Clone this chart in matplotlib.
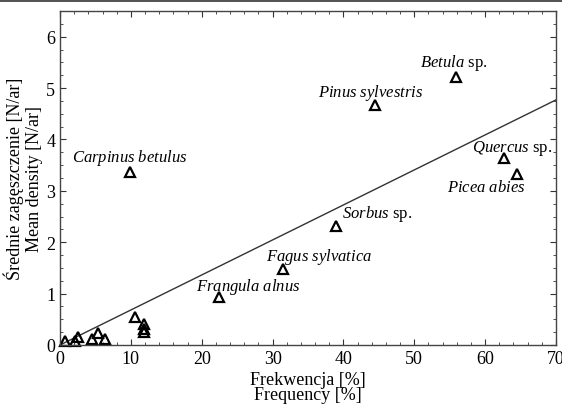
import matplotlib
matplotlib.use("Agg")
import matplotlib.pyplot as plt
from matplotlib.ticker import MultipleLocator
from matplotlib.patches import Rectangle

plt.rcParams['font.family'] = ['Liberation Serif', 'DejaVu Serif']
plt.rcParams['mathtext.fontset'] = 'custom'
plt.rcParams['mathtext.it'] = 'Liberation Serif:italic'
plt.rcParams['mathtext.rm'] = 'Liberation Serif'

# Named species: frequency [%], mean density [N/ar]
species = [r"$Betula$ sp.", r"$Pinus\ sylvestris$", r"$Carpinus\ betulus$",
           r"$Quercus$ sp.", r"$Picea\ abies$", r"$Sorbus$ sp.",
           r"$Fagus\ sylvatica$", r"$Frangula\ alnus$"]
freq_named = [55.9, 44.4, 9.9, 62.7, 64.5, 38.9, 31.5, 22.5]
dens_named = [5.22, 4.68, 3.36, 3.63, 3.32, 2.31, 1.48, 0.93]
# label anchor positions (data coordinates)
label_x = [55.6, 43.85, 9.8, 63.8, 60.1, 44.8, 36.5, 26.5]
label_y = [5.50, 4.93, 3.65, 3.84, 3.07, 2.56, 1.73, 1.15]

# Unlabelled species
freq_other = [10.6, 11.9, 11.9, 11.9, 0.7, 2.1, 2.5, 4.5, 5.4, 6.4]
dens_other = [0.54, 0.40, 0.32, 0.26, 0.08, 0.08, 0.15, 0.12, 0.23, 0.12]

# Regression line
line_x = [0, 70]
line_y = [0, 4.77]

fig = plt.figure(figsize=(5.62, 4.06), dpi=100)
ax = fig.add_axes([60/562, 1-346/406, (556-60)/562, (346-12)/406])

ax.plot(line_x, line_y, color='#333333', lw=1.0)
ax.plot(freq_named + freq_other, dens_named + dens_other, linestyle='none',
        marker='^', markersize=7.5, markerfacecolor='none',
        markeredgecolor='black', markeredgewidth=1.6, clip_on=False)

for s, lx, ly in zip(species, label_x, label_y):
    ax.text(lx, ly, s, ha='center', va='center', fontsize=12)

ax.set_xlim(0, 70)
ax.set_ylim(0, 6.5)
ax.xaxis.set_major_locator(MultipleLocator(10))
ax.xaxis.set_minor_locator(MultipleLocator(2))
ax.yaxis.set_major_locator(MultipleLocator(1))
ax.yaxis.set_minor_locator(MultipleLocator(0.25))
ax.tick_params(which='both', direction='in', top=True, right=True,
               labelsize=13, colors='#333333', labelcolor='black')
ax.tick_params(which='major', length=4, width=0.8)
ax.tick_params(which='minor', length=2, width=0.6)
for sp in ax.spines.values():
    sp.set_color('#444444')
    sp.set_linewidth(1.0)

ax.set_xlabel("Frekwencja [%]\nFrequency [%]", fontsize=13, labelpad=3,
              linespacing=0.88)
ax.set_ylabel("Średnie zagęszczenie [N/ar]\nMean density [N/ar]", fontsize=13,
              labelpad=2, linespacing=1.2)

fig.patches.append(Rectangle((0, 1-2.5/406), 1, 2.5/406, transform=fig.transFigure,
                             facecolor='#555555', edgecolor='none'))

fig.savefig("out.png", dpi=100)
